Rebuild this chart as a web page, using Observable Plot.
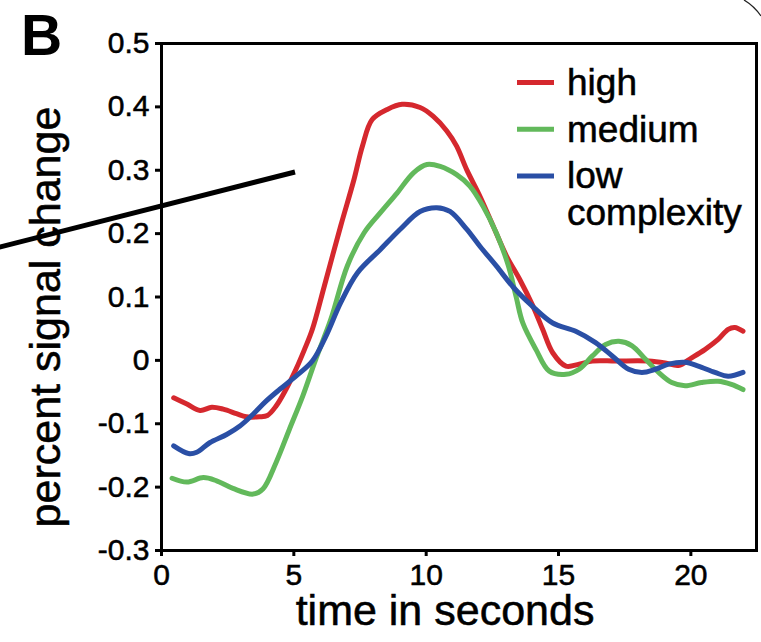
<!DOCTYPE html>
<html>
<head>
<meta charset="utf-8">
<script src="https://cdn.jsdelivr.net/npm/d3@7"></script>
<script src="https://cdn.jsdelivr.net/npm/@observablehq/plot@0.6"></script>
<style>
  html, body { margin: 0; padding: 0; background: #fff; }
  #chart { width: 761px; height: 642px; }
  /* slightly heavier glyphs for the Helvetica-style labels */
  #chart svg text { stroke: #000; stroke-width: 0.55px; }
  #chart svg text.letter { stroke: none; }
</style>
</head>
<body>
<div id="chart"></div>
<script>
// Event-related BOLD response by stimulus complexity (percent signal change over time)
const highTime = [0.46,0.96,1.46,1.9,2.33,2.83,3.2,3.7,4.0,4.33,4.7,5.08,5.4,5.7,6.15,6.77,7.27,7.59,7.96,8.53,9.09,9.77,10.27,10.78,11.15,11.53,12.03,12.53,13.03,13.53,14.03,14.4,14.78,15.28,15.78,16.28,17.16,18.4,19.03,19.53,20.03,20.53,21.03,21.41,21.66,21.97];
const highSignal = [-0.059,-0.069,-0.079,-0.074,-0.077,-0.084,-0.089,-0.089,-0.087,-0.072,-0.046,-0.014,0.017,0.049,0.117,0.212,0.285,0.338,0.38,0.396,0.404,0.399,0.385,0.362,0.338,0.301,0.259,0.212,0.165,0.128,0.086,0.049,0.012,-0.009,-0.006,-0.001,-0.001,-0.001,-0.004,-0.008,0.004,0.017,0.033,0.049,0.052,0.046];

const mediumTime = [0.4,0.96,1.58,2.08,2.7,3.46,3.83,4.33,4.83,5.34,5.83,6.4,7.02,7.65,8.27,8.9,9.52,10.03,10.53,11.15,11.65,12.15,12.65,13.1,13.4,13.65,14.15,14.65,15.28,15.78,16.28,16.78,17.28,17.78,18.28,18.78,19.28,19.78,20.4,21.03,21.53,21.97];
const mediumSignal = [-0.186,-0.192,-0.185,-0.19,-0.202,-0.211,-0.203,-0.161,-0.109,-0.056,0.002,0.065,0.149,0.201,0.233,0.264,0.296,0.309,0.306,0.293,0.275,0.243,0.201,0.15,0.1,0.059,0.017,-0.017,-0.022,-0.014,0.007,0.025,0.030,0.023,0.002,-0.019,-0.035,-0.04,-0.035,-0.033,-0.038,-0.046];

const lowTime = [0.46,1.02,1.33,1.82,2.46,2.95,3.46,3.96,4.46,5.08,5.7,6.2,6.77,7.4,8.27,9.02,9.77,10.4,10.9,11.53,12.03,12.65,13.3,13.95,14.78,15.65,16.4,17.03,17.65,18.15,18.66,19.16,19.78,20.28,20.91,21.41,21.97];
const lowSignal = [-0.135,-0.147,-0.145,-0.13,-0.117,-0.104,-0.085,-0.064,-0.046,-0.025,-0.001,0.037,0.091,0.138,0.175,0.207,0.235,0.241,0.235,0.207,0.18,0.149,0.115,0.088,0.059,0.046,0.028,0.007,-0.014,-0.019,-0.014,-0.006,-0.003,-0.009,-0.019,-0.025,-0.019];

const seriesNames = ["high", "medium", "low"];
const seriesColors = ["#d5282e", "#62b95b", "#2a4fa5"];
const legendLabels = [["high"], ["medium"], ["low", "complexity"]];

const xTicks = [0, 5, 10, 15, 20];
const yTicks = [-0.3, -0.2, -0.1, 0, 0.1, 0.2, 0.3, 0.4, 0.5];

const xLabel = "time in seconds";
const yLabel = "percent signal change";
const panelLetter = "B";

// long-format table for the line mark
const rows = [
  ...highTime.map((t, i) => ({series: "high", time: t, signal: highSignal[i]})),
  ...mediumTime.map((t, i) => ({series: "medium", time: t, signal: mediumSignal[i]})),
  ...lowTime.map((t, i) => ({series: "low", time: t, signal: lowSignal[i]}))
];

const FONT = "'Liberation Sans', Arial, Helvetica, sans-serif";
const fmtY = d => Math.abs(d) < 1e-9 ? "0" : d.toFixed(1);
const fmtX = d => String(Math.round(d));

// panel letter, legend and the stray pointer strokes around the panel
function overlay(index, scales, values, dimensions) {
  const {marginLeft, marginTop} = dimensions;
  const g = d3.create("svg:g")
    .attr("font-family", FONT)
    .attr("fill", "#000")
    .attr("text-anchor", "start");

  g.append("text")
    .attr("class", "letter")
    .attr("x", 21).attr("y", 55)
    .attr("font-size", 57).attr("font-weight", "bold")
    .text(panelLetter);

  g.append("line")
    .attr("x1", -6).attr("y1", 248.5).attr("x2", 295).attr("y2", 172)
    .attr("stroke", "#000").attr("stroke-width", 5);

  g.append("path")
    .attr("d", "M744,0 Q754,6 761,16")
    .attr("fill", "none").attr("stroke", "#222").attr("stroke-width", 1.3);

  legendLabels.forEach((lines, i) => {
    const sy = marginTop + 39.5 + i * 46.7;
    g.append("line")
      .attr("x1", marginLeft + 356).attr("x2", marginLeft + 393)
      .attr("y1", sy).attr("y2", sy)
      .attr("stroke", seriesColors[i]).attr("stroke-width", 5);
    const t = g.append("text")
      .attr("x", marginLeft + 406)
      .attr("y", marginTop + 52 + i * 46.7)
      .attr("font-size", 37);
    lines.forEach((ln, j) => {
      t.append("tspan")
        .attr("x", marginLeft + 406)
        .attr("dy", j === 0 ? 0 : 37)
        .text(ln);
    });
  });
  return g.node();
}

const chart = Plot.plot({
  width: 761,
  height: 642,
  marginLeft: 161,
  marginRight: 5,
  marginTop: 43,
  marginBottom: 92,
  style: {fontFamily: FONT, color: "#000", background: "#fff"},
  x: {domain: [0, 22.48]},
  y: {domain: [-0.3, 0.5]},
  color: {domain: seriesNames, range: seriesColors},
  marks: [
    Plot.line(rows, {
      x: "time", y: "signal", z: "series", stroke: "series",
      strokeWidth: 5, curve: "catmull-rom", strokeLinejoin: "round", strokeLinecap: "round"
    }),
    Plot.frame({stroke: "#000", strokeWidth: 3}),
    Plot.axisX({ticks: xTicks, tickFormat: fmtX, tickSize: 6, tickPadding: 7,
      strokeWidth: 3, fontSize: 30, label: null}),
    Plot.axisY({ticks: yTicks, tickFormat: fmtY, tickSize: 6, tickPadding: 6,
      strokeWidth: 3, fontSize: 30, label: null}),
    Plot.text([xLabel], {text: d => d, frameAnchor: "bottom", textAnchor: "middle",
      lineAnchor: "bottom", dx: -14, dy: 74, fontSize: 43, fill: "#000"}),
    Plot.text([yLabel], {text: d => d, frameAnchor: "left", textAnchor: "middle",
      lineAnchor: "bottom", rotate: -90, dx: -102, dy: 20, fontSize: 43, fill: "#000"}),
    overlay
  ]
});

document.getElementById("chart").appendChild(chart);
</script>
</body>
</html>
